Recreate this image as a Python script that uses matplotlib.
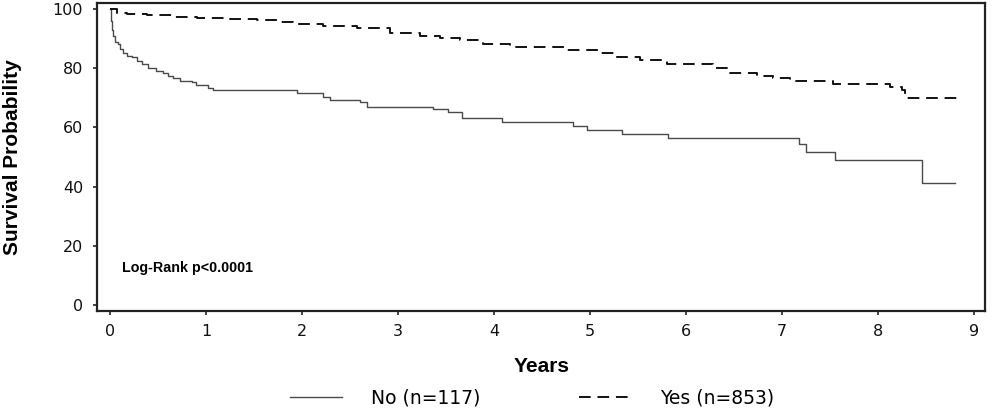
import matplotlib
matplotlib.use("Agg")
import matplotlib.pyplot as plt

# Kaplan-Meier step data (years, survival %)
t_no = [0, 0.01, 0.02, 0.03, 0.05, 0.08, 0.10, 0.14, 0.18, 0.23, 0.28, 0.33, 0.40,
        0.48, 0.55, 0.60, 0.66, 0.73, 0.85, 0.90, 1.02, 1.07, 1.95, 2.22, 2.29, 2.60,
        2.68, 3.36, 3.52, 3.67, 4.08, 4.82, 4.97, 5.33, 5.81, 7.18, 7.25, 7.55, 8.46, 8.80]
s_no = [100, 96, 93, 91, 89, 88, 86.6, 85, 84.2, 83.6, 82.5, 81.5, 80.2,
        79.2, 78.5, 77.5, 76.8, 75.8, 75.2, 74.2, 73.2, 72.5, 71.5, 70.1, 69.4, 68.5,
        66.8, 66.1, 65.1, 63.1, 61.7, 60.4, 59.1, 57.7, 56.4, 54.4, 51.7, 49.0, 41.3, 41.3]

t_yes = [0, 0.07, 0.18, 0.39, 0.66, 0.91, 1.25, 1.53, 1.77, 1.91, 2.22, 2.57, 2.92,
         3.23, 3.44, 3.65, 3.89, 4.17, 4.48, 4.76, 5.10, 5.28, 5.52, 5.80, 6.28, 6.46,
         6.74, 6.91, 7.08, 7.32, 7.53, 7.89, 8.13, 8.25, 8.28, 8.83]
s_yes = [100, 98.7, 98.3, 98.0, 97.3, 97.0, 96.6, 96.3, 95.6, 95.0, 94.3, 93.6, 92.0,
         91.0, 90.3, 89.6, 88.3, 87.2, 87.0, 86.2, 85.0, 83.6, 82.6, 81.5, 80.0, 78.5,
         77.5, 76.8, 75.8, 75.5, 74.8, 74.5, 73.5, 72.5, 69.8, 69.8]

labels = ["No (n=117)", "Yes (n=853)"]
x_ticks = [0, 1, 2, 3, 4, 5, 6, 7, 8, 9]
y_ticks = [0, 20, 40, 60, 80, 100]

fig = plt.figure(figsize=(9.92, 4.12), dpi=100)
ax = fig.add_axes([97/992, 101/412, 888/992, 308/412])

l1, = ax.step(t_no, s_no, where="post", color="#4a4a4a", lw=1.0)
l2, = ax.step(t_yes, s_yes, where="post", color="#111111", lw=1.4,
              linestyle=(0, (6, 3.5)))

ax.set_xlim(-0.135, 9.115)
ax.set_ylim(-2.0, 102.0)
ax.set_xticks(x_ticks)
ax.set_yticks(y_ticks)
ax.tick_params(axis="both", direction="out", length=3, width=1.2, color="#222222",
               labelsize=11.5, labelcolor="#111111")
ax.tick_params(axis="x", pad=6)
ax.tick_params(axis="y", pad=7)
for sp in ax.spines.values():
    sp.set_linewidth(1.6)
    sp.set_color("#222222")

ax.set_ylabel("Survival Probability", fontsize=15, fontweight="bold",
              family="Liberation Sans")
ax.yaxis.set_label_coords(-0.0845, 0.5)
ax.set_xlabel("Years", fontsize=15, fontweight="bold", family="Liberation Sans")
ax.xaxis.set_label_coords(0.501, -0.149)

ax.text(0.125, 12.5, "Log-Rank p<0.0001", fontsize=10.3, fontweight="bold",
        family="Liberation Sans", va="center", ha="left")

fig.legend([l1, l2], labels, loc="center", bbox_to_anchor=(532/992, 1 - 398/412),
           ncol=2, frameon=False, fontsize=13.5, handlelength=2.8,
           handletextpad=1.5, columnspacing=5.3)

fig.savefig("out.png", dpi=100)
